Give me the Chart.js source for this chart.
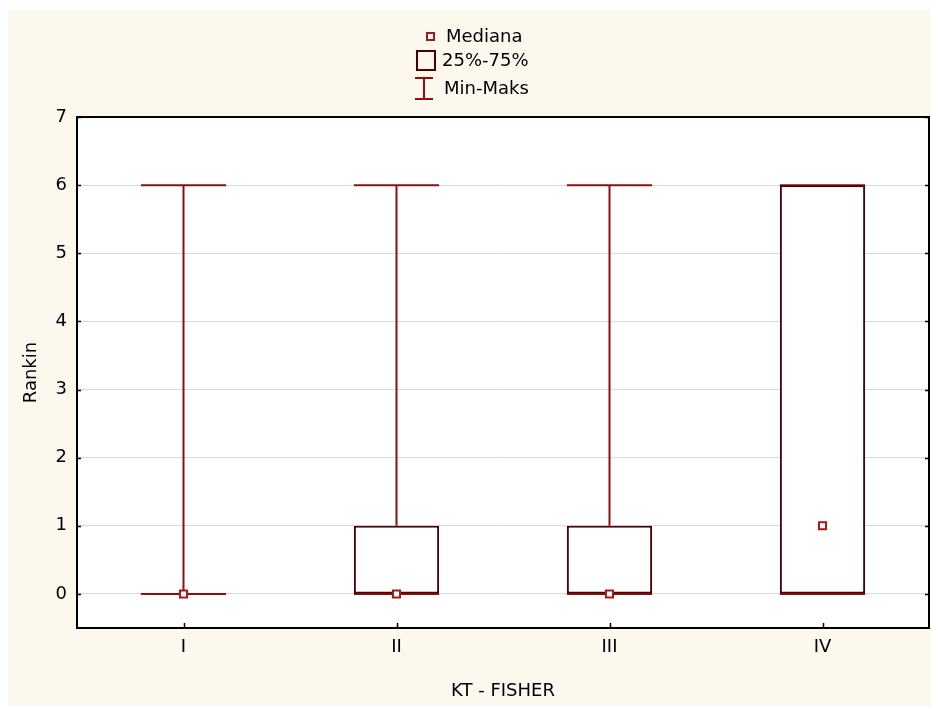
<!DOCTYPE html>
<html>
<head>
<meta charset="utf-8">
<script src="https://cdn.jsdelivr.net/npm/chart.js@4.4.0/dist/chart.umd.min.js"></script>
<style>
  html, body { margin: 0; overflow: hidden; background: #ffffff; font-family: "DejaVu Sans", Arial, sans-serif; }
  #wrap { position: absolute; left: 8px; top: 10px; width: 923px; height: 696px; background: #fdf8ed; overflow: hidden; }
  #chart { position: absolute; left: 0; top: 0; }
  .lg { position: absolute; font-size: 18px; line-height: 22px; color: #000; white-space: nowrap; }
  .ico { position: absolute; box-sizing: border-box; }
</style>
</head>
<body>
<div id="wrap">
  <canvas id="chart" width="928" height="696"></canvas>
  <!-- legend, coordinates relative to wrap -->
  <div class="ico" style="left:418px;top:22px;width:9px;height:9px;border:2px solid #a81818;background:#fff"></div>
  <div class="lg" style="left:438px;top:15px">Mediana</div>
  <div class="ico" style="left:408px;top:40px;width:20px;height:21px;border:2px solid #4a0000"></div>
  <div class="lg" style="left:434px;top:39px">25%-75%</div>
  <div class="ico" style="left:415px;top:68px;width:2px;height:21px;background:#8c1010"></div>
  <div class="ico" style="left:407px;top:67px;width:18px;height:2px;background:#8c1010"></div>
  <div class="ico" style="left:407px;top:88px;width:18px;height:2px;background:#8c1010"></div>
  <div class="lg" style="left:436px;top:67px">Min-Maks</div>
</div>
<script>
const categories = ['I', 'II', 'III', 'IV']
const minVals = [0, 0, 0, 0]
const q1Vals = [0, 0, 0, 0]
const medianVals = [0, 0, 0, 1]
const q3Vals = [0, 1, 1, 6]
const maxVals = [6, 6, 6, 6]

const whiskerColor = '#8c1010'
const boxColor = '#4a0000'
const medianColor = '#a81818'

// white plot background + frame + inner tick marks
const framePlugin = {
  id: 'frame',
  beforeDraw(chart) {
    const a = chart.chartArea
    const ctx = chart.ctx
    ctx.save()
    ctx.fillStyle = '#ffffff'
    ctx.fillRect(a.left, a.top, a.right - a.left, a.bottom - a.top)
    ctx.restore()
  },
  afterDraw(chart) {
    const a = chart.chartArea
    const ctx = chart.ctx
    const y = chart.scales.y
    const x = chart.scales.x
    ctx.save()
    ctx.strokeStyle = '#000'
    ctx.lineWidth = 2
    ctx.strokeRect(a.left, a.top, a.right - a.left, a.bottom - a.top)
    ctx.lineWidth = 1.5
    ctx.beginPath()
    y.ticks.forEach((t, i) => {
      const py = Math.round(y.getPixelForTick(i)) + 0.5
      ctx.moveTo(a.left, py); ctx.lineTo(a.left + 4, py)
      ctx.moveTo(a.right, py); ctx.lineTo(a.right - 4, py)
    })
    x.ticks.forEach((t, i) => {
      const px = Math.round(x.getPixelForTick(i)) + 0.5
      ctx.moveTo(px, a.bottom); ctx.lineTo(px, a.bottom - 5)
    })
    ctx.stroke()
    ctx.restore()
  }
}

// whiskers (min-max) drawn through the scales, under the boxes
const whiskerPlugin = {
  id: 'whiskers',
  beforeDatasetsDraw(chart) {
    const ctx = chart.ctx
    const x = chart.scales.x
    const y = chart.scales.y
    const bars = chart.getDatasetMeta(0).data
    ctx.save()
    ctx.strokeStyle = whiskerColor
    ctx.lineWidth = 2
    categories.forEach((c, i) => {
      const cx = x.getPixelForValue(i)
      const half = bars[i].width / 2
      const yMin = y.getPixelForValue(minVals[i])
      const yMax = y.getPixelForValue(maxVals[i])
      const yQ1 = y.getPixelForValue(q1Vals[i])
      const yQ3 = y.getPixelForValue(q3Vals[i])
      ctx.beginPath()
      ctx.moveTo(cx, yMax); ctx.lineTo(cx, yQ3)
      ctx.moveTo(cx, yQ1); ctx.lineTo(cx, yMin)
      ctx.moveTo(cx - half, yMax); ctx.lineTo(cx + half, yMax)
      ctx.moveTo(cx - half, yMin); ctx.lineTo(cx + half, yMin)
      ctx.stroke()
    })
    ctx.restore()
  }
}

const font = { family: '"DejaVu Sans", Arial, sans-serif', size: 18 }

new Chart(document.getElementById('chart'), {
  data: {
    labels: categories,
    datasets: [
      {
        type: 'bar',
        label: '25%-75%',
        order: 2,
        data: q1Vals.map((v, i) => [v, q3Vals[i]]),
        backgroundColor: '#ffffff',
        borderColor: boxColor,
        borderWidth: 2,
        borderSkipped: false,
        barPercentage: 0.4,
        categoryPercentage: 1
      },
      {
        type: 'line',
        label: 'Mediana',
        order: 1,
        data: medianVals,
        showLine: false,
        pointStyle: 'rect',
        pointRadius: 5,
        borderWidth: 2,
        borderColor: medianColor,
        backgroundColor: '#ffffff'
      }
    ]
  },
  options: {
    responsive: false,
    devicePixelRatio: 1,
    animation: false,
    layout: { padding: { top: 107, right: 2, left: 0, bottom: 0 } },
    plugins: { legend: { display: false }, tooltip: { enabled: false } },
    scales: {
      x: {
        offset: true,
        grid: { display: false, drawTicks: false },
        border: { display: true, color: '#000', width: 2 },
        ticks: { color: '#000', font: font, padding: 9 },
        title: { display: true, text: 'KT - FISHER', color: '#000', font: font, padding: { top: 0, bottom: 4 } },
        afterFit: s => { s.height = 78 }
      },
      y: {
        min: -0.5,
        max: 7,
        ticks: { stepSize: 1, color: '#000', font: font, padding: 10 },
        afterBuildTicks: s => { s.ticks = s.ticks.filter(t => Number.isInteger(t.value)) },
        grid: { color: '#d9d9d9', lineWidth: 1, drawTicks: false },
        border: { display: true, color: '#000', width: 2 },
        title: { display: true, text: 'Rankin', color: '#000', font: font, padding: { top: 13, bottom: 0 } },
        afterFit: s => { s.width = 69 }
      }
    }
  },
  plugins: [framePlugin, whiskerPlugin]
})
</script>
</body>
</html>
